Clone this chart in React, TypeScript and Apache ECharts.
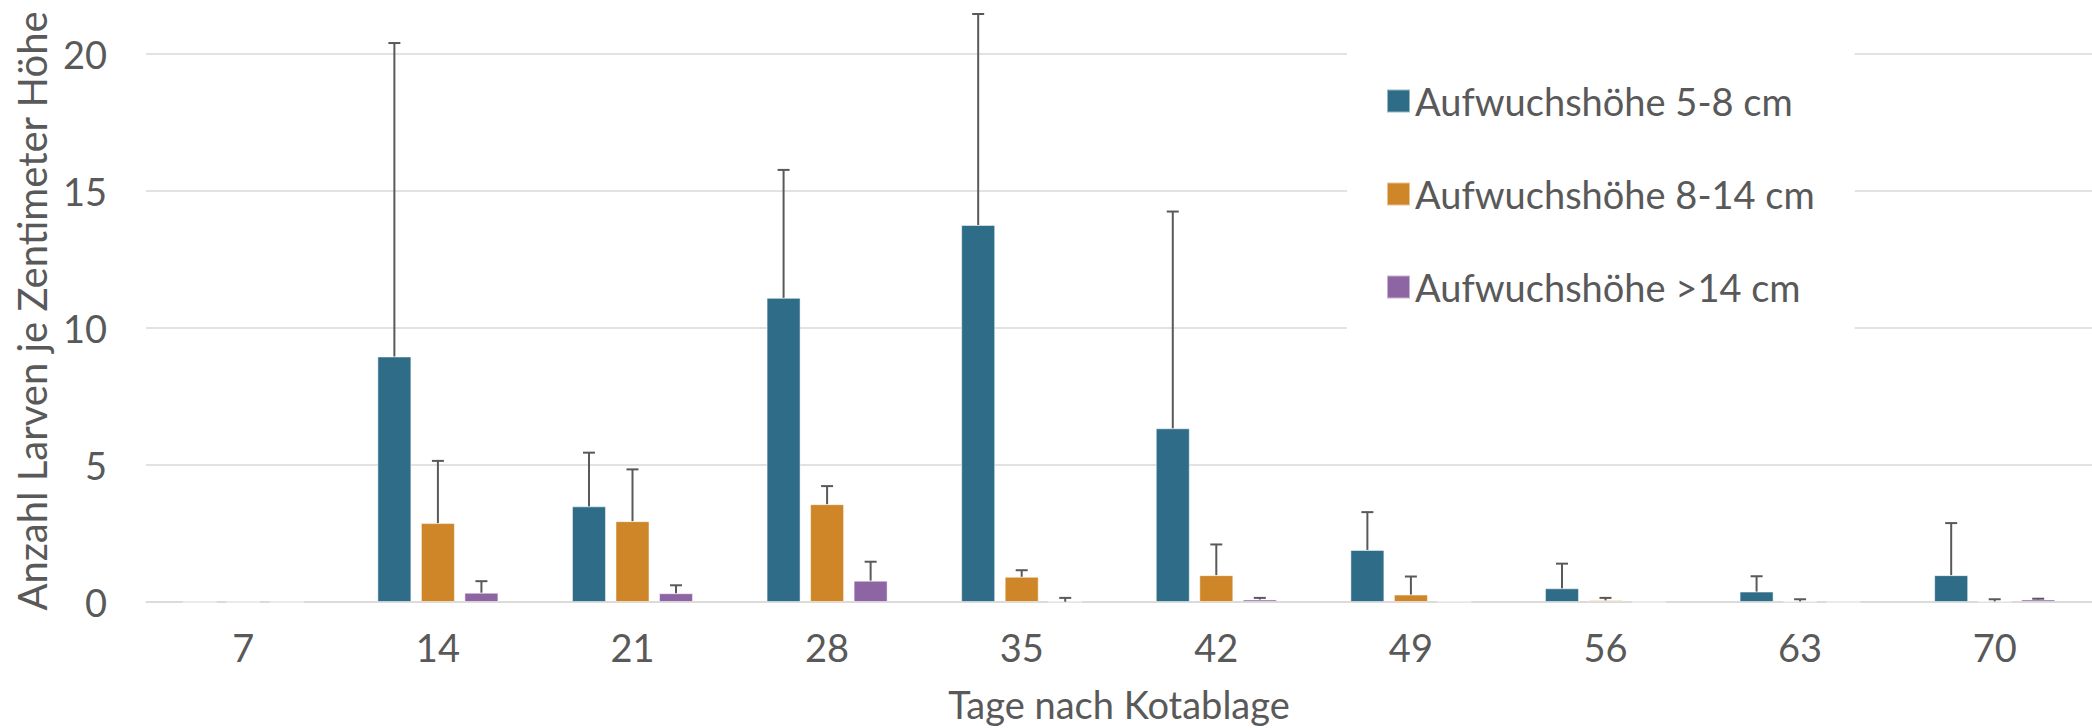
import React, { useEffect, useRef } from "react";
import * as echarts from "echarts";

const categories = ["7", "14", "21", "28", "35", "42", "49", "56", "63", "70"];
const seriesNames = ["Aufwuchshöhe 5-8 cm", "Aufwuchshöhe 8-14 cm", "Aufwuchshöhe >14 cm"];
const mean58 = [0, 8.96, 3.49, 11.1, 13.76, 6.34, 1.9, 0.5, 0.38, 0.98];
const upper58 = [0, 20.4, 5.45, 15.77, 21.46, 14.25, 3.28, 1.4, 0.94, 2.88];
const mean814 = [0, 2.88, 2.95, 3.57, 0.92, 0.98, 0.27, 0.06, 0.02, 0.02];
const upper814 = [0, 5.15, 4.84, 4.23, 1.16, 2.1, 0.93, 0.15, 0.1, 0.1];
const mean14 = [0, 0.34, 0.32, 0.78, 0.01, 0.09, 0.01, 0, 0, 0.09];
const upper14 = [0, 0.76, 0.61, 1.47, 0.15, 0.15, 0, 0, 0, 0.12];
const yTicks = [0, 5, 10, 15, 20];

const colors = ["#2E6C87", "#CE8629", "#8E65A3"];
const TEXT = "#595959";
const FONT = "Lato";
const BAR_W = 34;
const BAR_GAP = 0.28;

export default function App() {
  const ref = useRef<HTMLDivElement>(null);
  useEffect(() => {
    if (!ref.current) return;
    const chart = echarts.init(ref.current, undefined, { renderer: "svg" });
    const means = [mean58, mean814, mean14];
    const uppers = [upper58, upper814, upper14];
    const step = BAR_W * (1 + BAR_GAP);

    const barSeries = seriesNames.map((name, i) => ({
      name,
      type: "bar",
      data: means[i],
      barWidth: BAR_W,
      barGap: `${BAR_GAP * 100}%`,
      itemStyle: { color: colors[i], borderColor: "rgba(255,255,255,0.5)", borderWidth: 1 },
      z: 2,
    }));

    const errSeries = seriesNames.map((name, i) => ({
      name: name + " Fehler",
      type: "custom",
      clip: false,
      z: 3,
      data: categories.map((_, k) => [k, means[i][k], uppers[i][k]]),
      renderItem: (params: any, api: any) => {
        const k = api.value(0);
        const m = api.value(1);
        const u = api.value(2);
        if (!(u > m)) return { type: "group", children: [] };
        const p0 = api.coord([k, m]);
        const p1 = api.coord([k, u]);
        const x = p0[0] + (i - 1) * step;
        const st = { stroke: TEXT, lineWidth: 2 };
        return {
          type: "group",
          children: [
            { type: "line", shape: { x1: x, y1: p0[1], x2: x, y2: p1[1] }, style: st },
            { type: "line", shape: { x1: x - 6, y1: p1[1], x2: x + 6, y2: p1[1] }, style: st },
          ],
        };
      },
    }));

    chart.setOption({
      animation: false,
      textStyle: { fontFamily: FONT },
      grid: { left: 146, right: 0, top: 54, bottom: 126, containLabel: false },
      legend: {
        data: seriesNames,
        orient: "vertical",
        left: 1347,
        top: 42,
        icon: "rect",
        itemWidth: 23,
        itemHeight: 23,
        itemGap: 55,
        itemTextGap: 9,
        backgroundColor: "#ffffff",
        padding: [40, 40, 40, 39],
        textStyle: { color: TEXT, fontSize: 38, fontFamily: FONT },
      },
      xAxis: {
        type: "category",
        data: categories,
        name: "Tage nach Kotablage",
        nameLocation: "middle",
        nameGap: 83,
        nameTextStyle: { color: TEXT, fontSize: 38, fontFamily: FONT },
        axisLine: { lineStyle: { color: "#D9D9D9", width: 1.5 } },
        axisTick: { show: false },
        axisLabel: { color: TEXT, fontSize: 38, fontFamily: FONT, margin: 26 },
      },
      yAxis: {
        type: "value",
        min: yTicks[0],
        max: yTicks[yTicks.length - 1],
        interval: yTicks[1] - yTicks[0],
        name: "Anzahl Larven je Zentimeter Höhe",
        nameLocation: "middle",
        nameGap: 90,
        nameTextStyle: { color: TEXT, fontSize: 40, fontFamily: FONT, padding: [0, 0, 0, 34] },
        axisLine: { show: false },
        axisTick: { show: false },
        axisLabel: { color: TEXT, fontSize: 38, fontFamily: FONT, margin: 39 },
        splitLine: { lineStyle: { color: "#D9D9D9", width: 1.5 } },
      },
      series: [...barSeries, ...errSeries],
    });
    return () => chart.dispose();
  }, []);
  return (
    <div
      ref={ref}
      style={{ position: "fixed", left: 0, top: 0, width: 2092, height: 728, background: "#ffffff" }}
    />
  );
}
